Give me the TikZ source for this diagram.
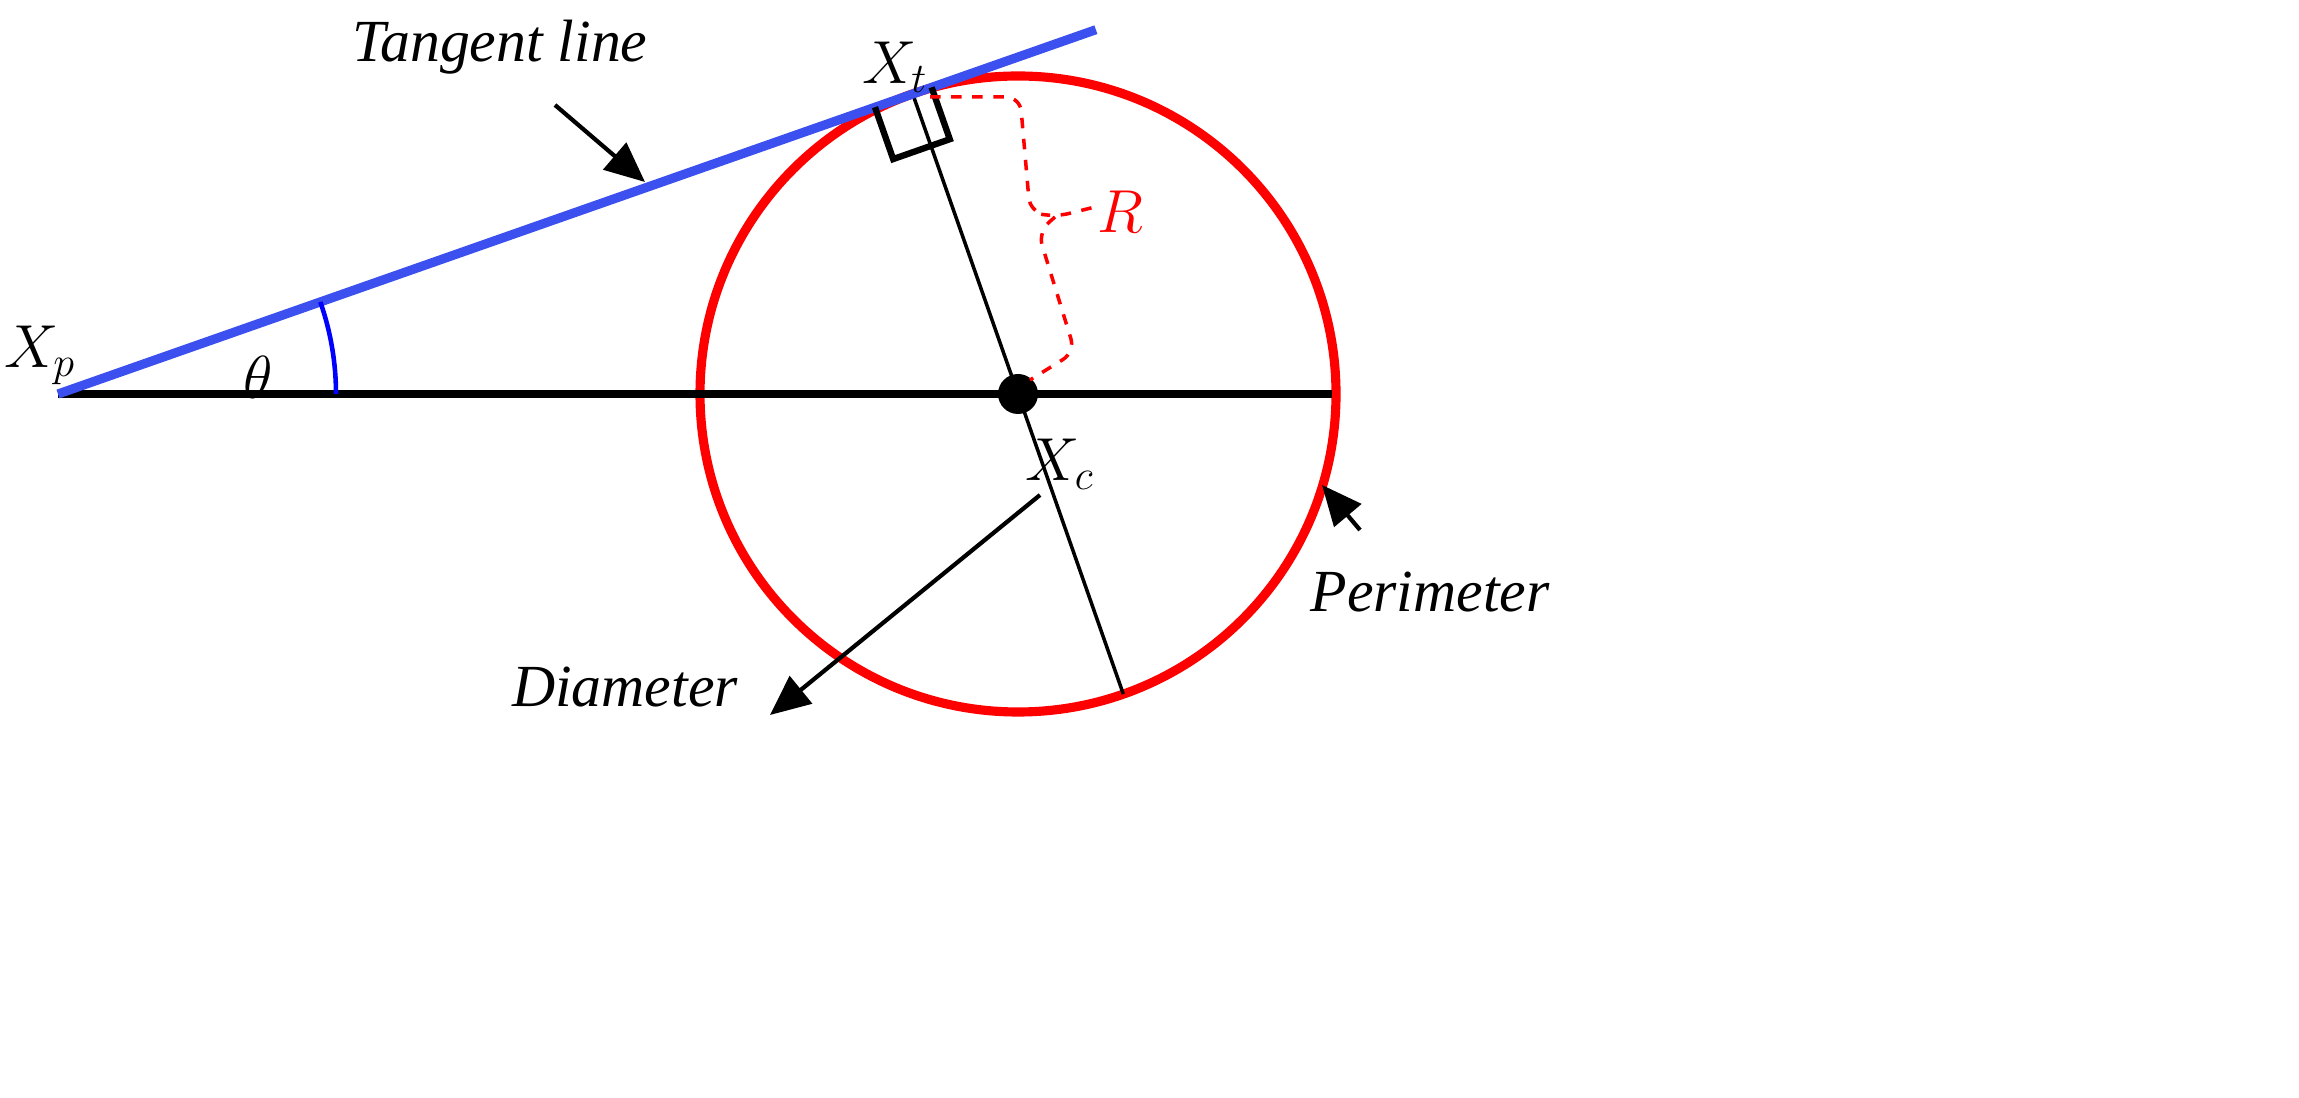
\documentclass[tikz,border=0pt]{standalone}
\usepackage{fontspec}
\setmainfont{Liberation Serif}
\usetikzlibrary{arrows.meta,calc}
\begin{document}
\begin{tikzpicture}[lbl/.style = {font = \fontsize{17}{19}\selectfont\itshape},
		pathstyle/.style = {-{Triangle[length=4mm,width=3.5mm]}, line width = 1.2pt},
		thick line/.style = {line width = 2.4pt}]
	\fill [white] (0,0) rectangle (22.99,10.97);
	\useasboundingbox (0,0) rectangle (22.99,10.97);
	% Main points
	\coordinate (Xc) at (10.18,7.03);
	\coordinate (Xp) at (0.58,7.03);
	\coordinate (Xt) at ($(Xc)+(109.34:3.18)$);
	\coordinate (Xd) at ($(Xc)+(-70.66:3.18)$);
	\coordinate (tanend) at ($(Xp)+(19.34:11)$);
	\coordinate (horend) at (13.32,7.03);
	% Circle and lines
	\draw [red, line width = 2.6pt] (Xc) circle (3.18);
	\draw [line width = 1pt] (Xt) -- (Xd);
	\draw [thick line] (Xp) -- (horend);
	\draw [line width = 2.6pt, color = {rgb,255:red,60;green,80;blue,240}] (Xp) -- (tanend);
	\fill (Xc) circle (0.2);
	\draw [blue, line width = 1.3pt] ($(Xp)+(2.78,0)$) arc (0:19.34:2.78);
	% Right angle mark
	\draw [line width = 1.8pt] ($(Xt)+(19.34:0.2)+(-160.66:0.6)$) -- ($(Xt)+(19.34:0.2)+(-160.66:0.6)+(-70.66:0.55)$) -- ($(Xt)+(19.34:0.2)+(-70.66:0.55)$) -- ($(Xt)+(19.34:0.2)$);
	% Radius bracket
	\draw [red, dashed, line width = 1pt, rounded corners = 4pt] (9.3,10.0) -- (10.2,10.0) -- (10.3,8.85) -- (10.55,8.8) -- (10.95,8.9);
	\draw [red, dashed, line width = 1pt, rounded corners = 4pt] (10.55,8.8) -- (10.38,8.65) -- (10.75,7.45) -- (10.3,7.17);
	% Labels
	\node (tl) [lbl] at (5.0,10.5) {Tangent line};
	\node (xt) [lbl] at (8.95,10.3) {$X_t$};
	\node (r) [lbl, red] at (11.2,8.85) {$R$};
	\node (xp) [lbl] at (0.4,7.42) {$X_p$};
	\node (th) [lbl] at (2.58,7.2) {$\theta$};
	\node (xc) [lbl] at (10.6,6.33) {$X_c$};
	\node (per) [lbl] at (14.3,5.05) {Perimeter};
	\node (dia) [lbl] at (6.25,4.1) {Diameter};
	% Arrows
	\draw [pathstyle] (5.55,9.92) -- (6.45,9.15);
	\draw [pathstyle] (10.4,6.02) -- (7.7,3.82);
	\draw [pathstyle] (13.6,5.67) -- (13.22,6.12);
\end{tikzpicture}
\end{document}
